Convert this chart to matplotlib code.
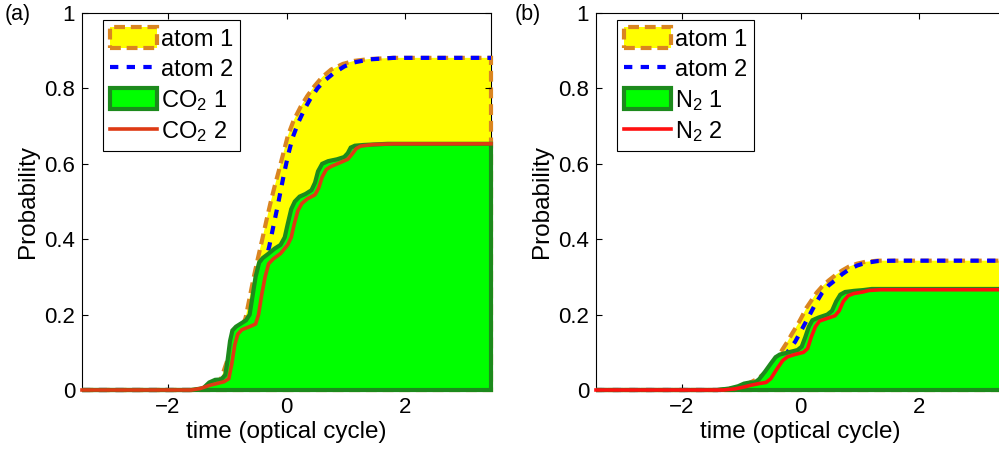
import matplotlib
matplotlib.use("Agg")
import matplotlib.pyplot as plt
from matplotlib.patches import Patch
from matplotlib.lines import Line2D

plt.rcParams['font.family'] = ['Liberation Sans', 'DejaVu Sans']
plt.rcParams['mathtext.fontset'] = 'custom'
plt.rcParams['mathtext.rm'] = 'Liberation Sans'
plt.rcParams['mathtext.it'] = 'Liberation Sans:italic'

# ---------------- data: panel (a) CO2 ----------------
a_atom1_x = [-3.44, -1.6, -1.3, -1.1, -0.95, -0.8, -0.69, -0.62, -0.55, -0.48, -0.41, -0.34, -0.27, -0.2,
             -0.125, -0.05, 0.02, 0.12, 0.24, 0.35, 0.47, 0.6, 0.75, 0.95, 1.14, 1.4, 1.8, 3.44]
a_atom1_y = [0, 0, 0.005, 0.03, 0.1, 0.15, 0.19, 0.245, 0.30, 0.35, 0.398, 0.448, 0.496, 0.54,
             0.584, 0.63, 0.673, 0.715, 0.752, 0.78, 0.806, 0.83, 0.85, 0.865, 0.873, 0.878, 0.881, 0.881]

a_atom2_x = [-3.44, -1.5, -1.2, -1.0, -0.85, -0.7, -0.55, -0.42, -0.29, -0.22, -0.15, -0.09, -0.04, 0.03,
             0.10, 0.2, 0.30, 0.4, 0.52, 0.65, 0.80, 0.97, 1.14, 1.4, 1.8, 3.44]
a_atom2_y = [0, 0, 0.005, 0.03, 0.09, 0.15, 0.23, 0.3, 0.381, 0.435, 0.487, 0.535, 0.575, 0.625,
             0.668, 0.71, 0.744, 0.772, 0.80, 0.822, 0.841, 0.858, 0.869, 0.877, 0.881, 0.881]

a_mol1_x = [-3.44, -1.6, -1.4, -1.3, -1.2, -1.1, -1.03, -0.99, -0.95, -0.91, -0.85, -0.75, -0.68, -0.62,
            -0.57, -0.52, -0.46, -0.4, -0.3, -0.2, -0.1, -0.03, 0.02, 0.08, 0.14, 0.22, 0.32, 0.42,
            0.48, 0.53, 0.6, 0.7, 0.85, 0.97, 1.03, 1.08, 1.15, 1.3, 1.7, 3.44]
a_mol1_y = [0, 0, 0.005, 0.02, 0.027, 0.028, 0.04, 0.08, 0.13, 0.158, 0.168, 0.178, 0.185, 0.2,
            0.25, 0.3, 0.338, 0.35, 0.362, 0.375, 0.385, 0.405, 0.44, 0.48, 0.5, 0.513, 0.52, 0.53,
            0.55, 0.58, 0.6, 0.607, 0.612, 0.618, 0.628, 0.643, 0.648, 0.65, 0.653, 0.653]

a_mol2_x = [-3.44, -1.6, -1.45, -1.3, -1.15, -1.05, -0.97, -0.92, -0.87, -0.82, -0.75, -0.62, -0.52,
            -0.47, -0.42, -0.36, -0.3, -0.22, -0.1, 0.02, 0.08, 0.13, 0.19, 0.26, 0.35, 0.48, 0.54,
            0.6, 0.67, 0.75, 0.9, 1.03, 1.1, 1.17, 1.25, 1.45, 1.8, 3.44]
a_mol2_y = [0, 0, 0.004, 0.012, 0.018, 0.022, 0.03, 0.07, 0.12, 0.148, 0.16, 0.168, 0.175,
            0.2, 0.25, 0.3, 0.335, 0.348, 0.362, 0.385, 0.405, 0.44, 0.475, 0.495, 0.507, 0.518, 0.535,
            0.565, 0.585, 0.593, 0.603, 0.612, 0.625, 0.64, 0.647, 0.651, 0.653, 0.653]

# ---------------- data: panel (b) N2 ----------------
b_atom1_x = [-3.44, -1.4, -1.1, -0.9, -0.71, -0.6, -0.48, -0.4, -0.31, -0.22, -0.14, -0.05, 0.025, 0.1,
             0.19, 0.27, 0.36, 0.47, 0.59, 0.7, 0.81, 0.95, 1.09, 1.3, 3.44]
b_atom1_y = [0, 0, 0.005, 0.015, 0.031, 0.045, 0.065, 0.08, 0.106, 0.128, 0.15, 0.173, 0.195, 0.218,
             0.239, 0.258, 0.274, 0.29, 0.305, 0.317, 0.327, 0.335, 0.34, 0.343, 0.343]

b_atom2_x = [-3.44, -1.3, -1.0, -0.8, -0.6, -0.45, -0.3, -0.2, -0.09, 0.02, 0.14, 0.25, 0.36, 0.47,
             0.59, 0.7, 0.81, 0.95, 1.09, 1.3, 1.6, 3.44]
b_atom2_y = [0, 0, 0.005, 0.015, 0.03, 0.05, 0.08, 0.105, 0.128, 0.16, 0.195, 0.228, 0.257, 0.277,
             0.292, 0.307, 0.319, 0.33, 0.337, 0.342, 0.343, 0.343]

b_mol1_x = [-3.44, -1.4, -1.2, -1.05, -0.95, -0.85, -0.77, -0.7, -0.6, -0.5, -0.42, -0.35, -0.2, -0.05,
            0.02, 0.08, 0.14, 0.2, 0.3, 0.45, 0.53, 0.6, 0.67, 0.75, 0.9, 1.05, 1.2, 3.44]
b_mol1_y = [0, 0, 0.004, 0.01, 0.017, 0.02, 0.02, 0.028, 0.048, 0.07, 0.087, 0.094, 0.1, 0.106,
            0.115, 0.14, 0.168, 0.185, 0.192, 0.2, 0.21, 0.235, 0.253, 0.26, 0.263, 0.265, 0.268, 0.268]

b_mol2_x = [-3.44, -1.3, -1.1, -0.95, -0.85, -0.7, -0.58, -0.5, -0.4, -0.3, -0.22, -0.1, 0.05, 0.12,
            0.18, 0.25, 0.32, 0.45, 0.58, 0.65, 0.72, 0.8, 0.9, 1.05, 1.15, 1.35, 3.44]
b_mol2_y = [0, 0, 0.003, 0.008, 0.012, 0.017, 0.02, 0.03, 0.055, 0.078, 0.088, 0.094, 0.1, 0.11,
            0.14, 0.168, 0.183, 0.19, 0.197, 0.21, 0.235, 0.25, 0.256, 0.26, 0.264, 0.266, 0.266]

xticks = [-2, 0, 2]
yticks = [0, 0.2, 0.4, 0.6, 0.8, 1]
yticklabels = ['0', '0.2', '0.4', '0.6', '0.8', '1']
xlim = (-3.44, 3.44)

YELLOW = '#FFFF00'
ORANGE = '#DA8520'
BLUE = '#0000FF'
GREEN = '#00FF00'
DGREEN = '#1C8A1C'

fig = plt.figure(figsize=(9.99, 4.53), dpi=100)

panels = [
    dict(left=82, label='(a)', lx=5, mol='CO', red='#DE3A14',
         atom1=(a_atom1_x, a_atom1_y), atom2=(a_atom2_x, a_atom2_y),
         mol1=(a_mol1_x, a_mol1_y), mol2=(a_mol2_x, a_mol2_y)),
    dict(left=596, label='(b)', lx=515, mol='N', red='#FF1010',
         atom1=(b_atom1_x, b_atom1_y), atom2=(b_atom2_x, b_atom2_y),
         mol1=(b_mol1_x, b_mol1_y), mol2=(b_mol2_x, b_mol2_y)),
]

W, H = 999, 453
for p in panels:
    ax = fig.add_axes([p['left'] / W, (H - 390) / H, 409 / W, 377 / H])
    x1, y1 = p['atom1']
    ax.fill(list(x1) + [x1[-1], x1[0]], list(y1) + [0, 0], facecolor=YELLOW, edgecolor=ORANGE,
            linewidth=3, linestyle=(0, (2.6, 1.4)), clip_on=False, zorder=1)
    x2, y2 = p['atom2']
    ax.plot(x2, y2, color=BLUE, linewidth=3, linestyle=(0, (2.0, 2.0)), zorder=2, clip_on=False)
    m1x, m1y = p['mol1']
    ax.fill(list(m1x) + [m1x[-1], m1x[0]], list(m1y) + [0, 0], facecolor=GREEN, edgecolor=DGREEN,
            linewidth=3, clip_on=False, zorder=3)
    m2x, m2y = p['mol2']
    ax.plot(m2x, m2y, color=p['red'], linewidth=2.6, zorder=4, clip_on=False)

    ax.set_xlim(*xlim)
    ax.set_ylim(0, 1)
    ax.set_xticks(xticks)
    ax.set_yticks(yticks)
    ax.set_yticklabels(yticklabels)
    ax.tick_params(direction='in', top=True, right=True, length=4, width=0.8,
                   labelsize=16, pad=5)
    for s in ax.spines.values():
        s.set_linewidth(0.8)
        s.set_zorder(0.5)
    ax.set_xlabel('time (optical cycle)', fontsize=17.5, labelpad=2)
    ax.set_ylabel('Probability', fontsize=17.5, labelpad=4)

    mol = p['mol']
    handles = [
        Patch(facecolor=YELLOW, edgecolor=ORANGE, linewidth=3, linestyle=(0, (2.6, 1.4))),
        Line2D([], [], color=BLUE, linewidth=3, linestyle=(0, (2.0, 2.0))),
        Patch(facecolor=GREEN, edgecolor=DGREEN, linewidth=3),
        Line2D([], [], color=p['red'], linewidth=2.6),
    ]
    labels = ['atom 1', 'atom 2', mol + '$_{2}$ 1', mol + '$_{2}$ 2']
    leg = ax.legend(handles, labels, loc='upper left', bbox_to_anchor=(0.051, 0.981),
                    borderaxespad=0, fontsize=17, frameon=True, fancybox=False,
                    edgecolor='black', framealpha=1, handlelength=2.0, handleheight=1.0,
                    handletextpad=0.15, labelspacing=0.28, borderpad=0.3)
    leg.get_frame().set_linewidth(0.8)
    leg.set_zorder(10)

    fig.text(p['lx'] / W, 1 - 4 / H, p['label'], fontsize=15.5, ha='left', va='top')

fig.savefig('out.png', dpi=100)
